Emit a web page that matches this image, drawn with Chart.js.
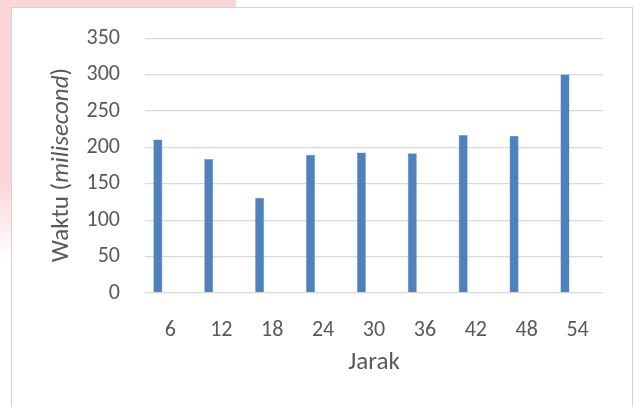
<!DOCTYPE html>
<html>
<head>
<meta charset="utf-8">
<script src="https://cdn.jsdelivr.net/npm/chart.js@4.4.1/dist/chart.umd.min.js"></script>
<style>
    html, body { margin: 0; padding: 0; background: #fff; }
    body { width: 634px; height: 407px; position: relative; overflow: hidden; }
    #pink {
        position: absolute; left: 0; top: 0; width: 236px; height: 260px;
        background: linear-gradient(to bottom, rgba(253, 213, 216, 1) 0%, rgba(253, 213, 216, 1) 70%, rgba(253, 213, 216, 0) 100%);
    }
    #frame {
        position: absolute; left: 11px; top: 7px; width: 620px; height: 420px;
        border: 1px solid #d4d4d4; background: #fff;
    }
    #chartBox { position: absolute; left: 0; top: 0; width: 634px; height: 407px; }
</style>
</head>
<body>
<div id="pink"></div>
<div id="frame"></div>
<div id="chartBox"><canvas id="jarakChart" width="634" height="407"></canvas></div>
<script>
// Data
const jarakLabels = ['6', '12', '18', '24', '30', '36', '42', '48', '54'];
const waktuValues = [211, 184, 131, 190, 193, 192, 217, 216, 300];
const emptySeries = [null, null, null, null, null, null, null, null, null];
const yTicks = [0, 50, 100, 150, 200, 250, 300, 350];

const fontFamily = "Carlito, Lato, 'Open Sans', sans-serif";
const textColor = '#595959';

// Axis titles drawn by hand so "milisecond" can be italic
const axisTitles = {
    id: 'axisTitles',
    afterDraw(chart) {
        const ctx = chart.ctx;
        const area = chart.chartArea;
        ctx.save();
        ctx.fillStyle = textColor;
        ctx.textBaseline = 'middle';

        // x title
        ctx.font = '25px ' + fontFamily;
        ctx.textAlign = 'center';
        ctx.fillText('Jarak', (area.left + area.right) / 2, area.bottom + 70);

        // y title, mixed style
        const normal = '25px ' + fontFamily;
        const italic = 'italic 25px ' + fontFamily;
        const parts = [['Waktu (', normal], ['milisecond', italic], [')', normal]];
        let total = 0;
        parts.forEach(p => { ctx.font = p[1]; total += ctx.measureText(p[0]).width; });
        ctx.translate(62, 165);
        ctx.rotate(-Math.PI / 2);
        ctx.textAlign = 'left';
        let x = -total / 2;
        parts.forEach(p => {
            ctx.font = p[1];
            ctx.fillText(p[0], x, 0);
            x += ctx.measureText(p[0]).width;
        });
        ctx.restore();
    }
};

const chartEl = document.getElementById('jarakChart');
const jarakChart = new Chart(chartEl, {
    type: 'bar',
    data: {
        labels: jarakLabels,
        datasets: [
            {
                label: 'Waktu',
                data: waktuValues,
                backgroundColor: '#4f81bd',
                borderColor: '#6f97c9',
                borderWidth: 0.5,
                categoryPercentage: 0.99,
                barPercentage: 0.36
            },
            {
                label: '',
                data: emptySeries,
                backgroundColor: 'rgba(0,0,0,0)',
                categoryPercentage: 0.99,
                barPercentage: 0.36
            }
        ]
    },
    options: {
        responsive: false,
        animation: false,
        layout: {
            padding: { left: 0, top: 36, right: 31, bottom: 54 }
        },
        plugins: {
            legend: { display: false },
            tooltip: { enabled: false }
        },
        scales: {
            x: {
                grid: { display: false },
                border: { display: false },
                ticks: {
                    color: textColor,
                    font: { family: fontFamily, size: 22 },
                    padding: 16,
                    maxRotation: 0
                },
                afterFit(scale) { scale.height = 60; }
            },
            y: {
                min: 0,
                max: 350,
                afterBuildTicks(scale) {
                    scale.ticks = yTicks.map(v => ({ value: v }));
                },
                grid: {
                    color: '#d9d9d9',
                    lineWidth: 1.3,
                    drawTicks: false
                },
                border: { display: false },
                ticks: {
                    color: textColor,
                    font: { family: fontFamily, size: 22 },
                    padding: 25
                },
                afterFit(scale) { scale.width = 145; }
            }
        }
    },
    plugins: [axisTitles]
});
</script>
</body>
</html>
